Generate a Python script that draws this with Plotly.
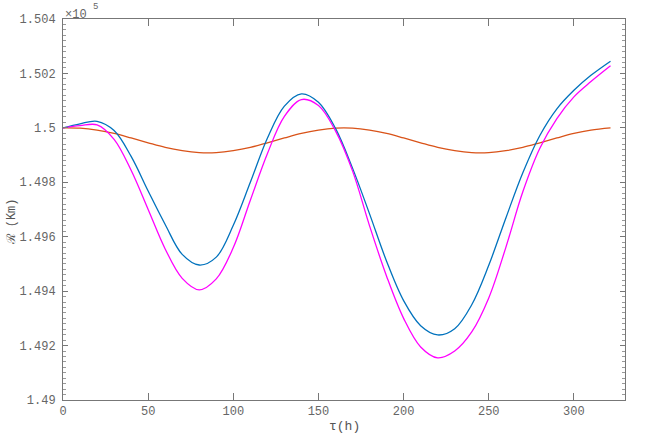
import plotly.graph_objects as go

# time grid (h)
t_vals = [0, 10, 20, 30, 40, 50, 60, 70, 80, 90, 100, 110, 120, 130, 140, 150, 160,
          170, 180, 190, 200, 210, 220, 230, 240, 250, 260, 270, 280, 290, 300, 310, 321.5]

# R (x10^5 km)
r_blue = [1.50000, 1.50015, 1.50024, 1.49990, 1.49895, 1.49768, 1.49645, 1.49535, 1.49496,
          1.49525, 1.49642, 1.49800, 1.49962, 1.50080, 1.50125, 1.50094, 1.49998, 1.49852,
          1.49684, 1.49510, 1.49365, 1.49273, 1.49239, 1.49262, 1.49350, 1.49495, 1.49668,
          1.49835, 1.49972, 1.50070, 1.50138, 1.50193, 1.50245]

r_magenta = [1.50000, 1.50008, 1.50011, 1.49958, 1.49844, 1.49700, 1.49555, 1.49447, 1.49405,
             1.49445, 1.49560, 1.49734, 1.49905, 1.50042, 1.50104, 1.50082, 1.49989, 1.49842,
             1.49640, 1.49455, 1.49300, 1.49195, 1.49155, 1.49180, 1.49250, 1.49375, 1.49560,
             1.49765, 1.49925, 1.50034, 1.50114, 1.50170, 1.50228]

r_orange = [1.50000, 1.49999, 1.49992, 1.49980, 1.49963, 1.49945, 1.49928, 1.49916, 1.49909,
            1.49909, 1.49916, 1.49928, 1.49945, 1.49963, 1.49980, 1.49992, 1.49999, 1.49999,
            1.49992, 1.49980, 1.49963, 1.49945, 1.49928, 1.49916, 1.49909, 1.49909, 1.49916,
            1.49928, 1.49945, 1.49963, 1.49980, 1.49992, 1.50000]

x_tick_vals = [0, 50, 100, 150, 200, 250, 300]
x_tick_text = ["0", "50", "100", "150", "200", "250", "300"]
y_tick_vals = [1.49, 1.492, 1.494, 1.496, 1.498, 1.5, 1.502, 1.504]
y_tick_text = ["1.49", "1.492", "1.494", "1.496", "1.498", "1.5", "1.502", "1.504"]

series = [
    ("orange", r_orange, "#D95319"),
    ("blue", r_blue, "#0072BD"),
    ("magenta", r_magenta, "#FF00FF"),
]

fig = go.Figure()
for name, ys, col in series:
    fig.add_trace(go.Scatter(x=t_vals, y=ys, mode="lines", name=name,
                             line=dict(color=col, width=1.3, shape="spline", smoothing=1.0),
                             showlegend=False))

mono = "Liberation Mono, DejaVu Sans Mono, monospace"
axis_font = dict(family=mono, size=12, color="#666666")

fig.update_layout(
    width=654, height=436,
    margin=dict(l=63, r=29, t=19, b=36),
    paper_bgcolor="white", plot_bgcolor="white",
    xaxis=dict(range=[0, 330], tickvals=x_tick_vals, ticktext=x_tick_text,
               ticks="inside", ticklen=7, tickcolor="#777777", tickwidth=1,
               showline=True, linecolor="#777777", linewidth=1, mirror="ticks",
               showgrid=False, zeroline=False, tickfont=axis_font, automargin=False),
    yaxis=dict(range=[1.49, 1.504], tickvals=y_tick_vals, ticktext=y_tick_text,
               ticks="inside", ticklen=5, tickcolor="#777777", tickwidth=1,
               minor=dict(dtick=0.0002, ticks="inside", ticklen=3, tickcolor="#999999", showgrid=False),
               showline=True, linecolor="#777777", linewidth=1, mirror="ticks",
               showgrid=False, zeroline=False, tickfont=axis_font, ticklabelstandoff=4,
               automargin=False),
)

# axis titles and exponent
fig.add_annotation(text="τ(h)", xref="paper", yref="paper", x=0.5, y=0, yshift=-17,
                   showarrow=False, xanchor="center", yanchor="top",
                   font=dict(family=mono, size=13, color="#555555"))
fig.add_annotation(text="ℛ (Km)", xref="paper", yref="paper", x=-0.09, y=0.467,
                   showarrow=False, textangle=-90, xanchor="center", yanchor="middle",
                   font=dict(family=mono, size=12, color="#555555"))
fig.add_annotation(text="×10", xref="paper", yref="paper", x=0.0, y=1.0, yshift=4,
                   showarrow=False, xanchor="left", yanchor="middle",
                   font=dict(family=mono, size=12, color="#666666"))
fig.add_annotation(text="5", xref="paper", yref="paper", x=0.0, y=1.0, xshift=32, yshift=12,
                   showarrow=False, xanchor="center", yanchor="middle",
                   font=dict(family=mono, size=9, color="#666666"))

fig.write_html("out.html", config={"displayModeBar": False},
               post_script="document.body.style.margin='0';document.body.style.overflow='hidden';")
